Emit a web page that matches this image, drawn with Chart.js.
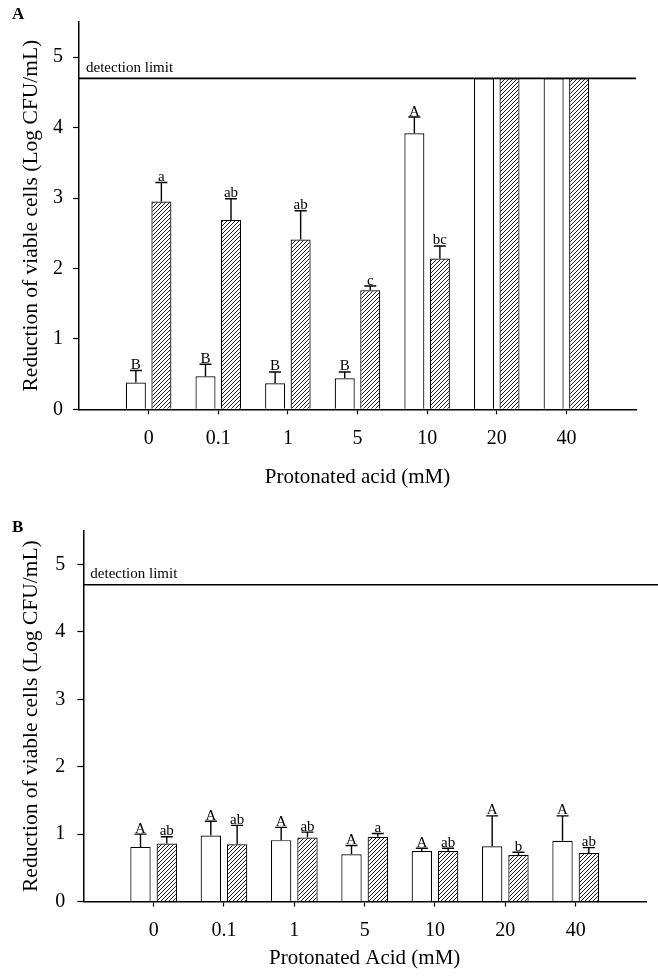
<!DOCTYPE html>
<html>
<head>
<meta charset="utf-8">
<script src="https://cdn.jsdelivr.net/npm/chart.js@4.4.0/dist/chart.umd.min.js"></script>
<style>
  body { margin: 0; background: #fff; }
  #wrap { position: relative; width: 658px; height: 976px; }
  canvas { position: absolute; left: 0; }
  .panel { position: absolute; font: bold 17px 'Liberation Serif', serif; color: #000; }
</style>
</head>
<body>
<div id="wrap">
  <canvas id="chartA" width="658" height="490" style="top:0"></canvas>
  <canvas id="chartB" width="658" height="486" style="top:490px"></canvas>
  <div class="panel" style="left:12px; top:4px">A</div>
  <div class="panel" style="left:12px; top:517px">B</div>
</div>
<script>
// concentrations (mM)
const concentrations = ['0', '0.1', '1', '5', '10', '20', '40'];
const detectionLimit = 4.7;

// panel A
const aOpen = [0.38, 0.47, 0.37, 0.44, 3.92, 4.7, 4.7];
const aOpenErr = [0.17, 0.17, 0.16, 0.09, 0.23, null, null];
const aOpenLetters = ['B', 'B', 'B', 'B', 'A', '', ''];
const aHatch = [2.95, 2.69, 2.41, 1.69, 2.14, 4.7, 4.7];
const aHatchErr = [0.27, 0.30, 0.41, 0.06, 0.18, null, null];
const aHatchLetters = ['a', 'ab', 'ab', 'c', 'bc', '', ''];

// panel B
const bOpen = [0.81, 0.98, 0.91, 0.70, 0.75, 0.82, 0.90];
const bOpenErr = [0.19, 0.21, 0.19, 0.13, 0.04, 0.45, 0.37];
const bOpenLetters = ['A', 'A', 'A', 'A', 'A', 'A', 'A'];
const bHatch = [0.86, 0.85, 0.95, 0.96, 0.75, 0.69, 0.72];
const bHatchErr = [0.10, 0.28, 0.08, 0.05, 0.04, 0.04, 0.08];
const bHatchLetters = ['ab', 'ab', 'ab', 'a', 'ab', 'b', 'ab'];

const yTicks = [0, 1, 2, 3, 4, 5];

Chart.defaults.font.family = "'Liberation Serif', 'Times New Roman', serif";
Chart.defaults.color = '#000';

// pad with an empty slot each side so the axis runs past the first/last group
const pad = arr => [null, ...arr, null];

function hatchPattern(ctx) {
  const c = document.createElement('canvas');
  c.width = 4; c.height = 4;
  const g = c.getContext('2d');
  g.fillStyle = '#fff';
  g.fillRect(0, 0, 4, 4);
  g.strokeStyle = '#000';
  g.lineWidth = 0.9;
  g.beginPath();
  g.moveTo(0, 4); g.lineTo(4, 0);
  g.moveTo(-1, 1); g.lineTo(1, -1);
  g.moveTo(3, 5); g.lineTo(5, 3);
  g.stroke();
  return ctx.createPattern(c, 'repeat');
}

const errorBars = {
  id: 'errorBars',
  afterDatasetsDraw(chart) {
    const ctx = chart.ctx;
    const y = chart.scales.y;
    chart.data.datasets.forEach((ds, di) => {
      const meta = chart.getDatasetMeta(di);
      meta.data.forEach((bar, i) => {
        const v = ds.data[i];
        if (v == null) return;
        const e = ds.errors[i];
        let top = bar.y;
        ctx.save();
        if (e != null) {
          const capY = y.getPixelForValue(v + e);
          ctx.strokeStyle = '#000';
          ctx.lineWidth = 1.4;
          ctx.beginPath();
          ctx.moveTo(bar.x, bar.y);
          ctx.lineTo(bar.x, capY);
          ctx.moveTo(bar.x - 6, capY);
          ctx.lineTo(bar.x + 6, capY);
          ctx.stroke();
          top = capY;
        }
        const lab = ds.letters[i];
        if (lab) {
          ctx.fillStyle = '#000';
          ctx.font = "15px 'Liberation Serif', serif";
          ctx.textAlign = 'center';
          ctx.textBaseline = 'alphabetic';
          ctx.fillText(lab, bar.x, top - 1.5);
        }
        ctx.restore();
      });
    });
  }
};

const detection = {
  id: 'detection',
  afterDatasetsDraw(chart, args, opts) {
    const ctx = chart.ctx;
    const yy = chart.scales.y.getPixelForValue(opts.value);
    const left = chart.chartArea.left;
    const right = opts.right || chart.chartArea.right;
    ctx.save();
    ctx.strokeStyle = '#000';
    ctx.lineWidth = 1.6;
    ctx.beginPath();
    ctx.moveTo(left, yy);
    ctx.lineTo(right, yy);
    ctx.stroke();
    ctx.fillStyle = '#000';
    ctx.font = "15px 'Liberation Serif', serif";
    ctx.textAlign = 'left';
    ctx.textBaseline = 'alphabetic';
    ctx.fillText('detection limit', left + 7, yy - 6.5);
    ctx.restore();
  }
};

function makePanel(id, p) {
  const ctx = document.getElementById(id).getContext('2d');
  const labels = ['', ...concentrations, ''];
  const last = labels.length - 1;
  return new Chart(ctx, {
    type: 'bar',
    data: {
      labels: labels,
      datasets: [
        {
          data: pad(p.open), errors: pad(p.openErr), letters: pad(p.openLetters),
          backgroundColor: '#fff', borderColor: '#000', borderWidth: 1.2,
          categoryPercentage: p.cp, barPercentage: p.bp
        },
        {
          data: pad(p.hatch), errors: pad(p.hatchErr), letters: pad(p.hatchLetters),
          backgroundColor: hatchPattern(ctx), borderColor: '#000', borderWidth: 1.2,
          categoryPercentage: p.cp, barPercentage: p.bp
        }
      ]
    },
    options: {
      responsive: false,
      animation: false,
      layout: { padding: p.padding },
      plugins: {
        legend: { display: false },
        tooltip: { enabled: false },
        detection: { value: detectionLimit, right: p.detRight }
      },
      scales: {
        x: {
          offset: false,
          grid: {
            offset: false, drawOnChartArea: false, tickLength: 5, tickWidth: 1.2,
            tickColor: c => (c.index === 0 || c.index === last) ? 'rgba(0,0,0,0)' : '#000'
          },
          border: { color: '#000', width: 1.5 },
          ticks: { autoSkip: false, maxRotation: 0, padding: 12, font: { size: 20 } },
          title: { display: true, text: p.xTitle, font: { size: 21 }, padding: { top: 0, bottom: 0 } },
          afterFit: s => { s.height = p.xHeight; }
        },
        y: {
          min: 0, max: 5.5,
          grid: { drawOnChartArea: false, tickLength: 6, tickWidth: 1.2, tickColor: '#000' },
          border: { color: '#000', width: 1.5 },
          ticks: { stepSize: 1, padding: p.yPad, font: { size: 20 } },
          afterBuildTicks: s => { s.ticks = yTicks.map(v => ({ value: v })); },
          title: { display: true, text: 'Reduction of viable cells (Log CFU/mL)', font: { size: 21.5 }, padding: { top: 18, bottom: 0 } },
          afterFit: s => { s.width = p.yWidth; }
        }
      }
    },
    plugins: [errorBars, detection]
  });
}

makePanel('chartA', {
  open: aOpen, openErr: aOpenErr, openLetters: aOpenLetters,
  hatch: aHatch, hatchErr: aHatchErr, hatchLetters: aHatchLetters,
  xTitle: 'Protonated acid (mM)',
  padding: { left: 0, top: 18.25, right: 22, bottom: 0 },
  yWidth: 79, xHeight: 80.7, yPad: 10,
  cp: 0.733, bp: 0.784, detRight: null
});

makePanel('chartB', {
  open: bOpen, openErr: bOpenErr, openLetters: bOpenLetters,
  hatch: bHatch, hatchErr: bHatchErr, hatchLetters: bHatchLetters,
  xTitle: 'Protonated Acid (mM)',
  padding: { left: 0, top: 40.8, right: 5, bottom: 5 },
  yWidth: 83.3, xHeight: 69.5, yPad: 12,
  cp: 0.748, bp: 0.774, detRight: 658
});
</script>
</body>
</html>
